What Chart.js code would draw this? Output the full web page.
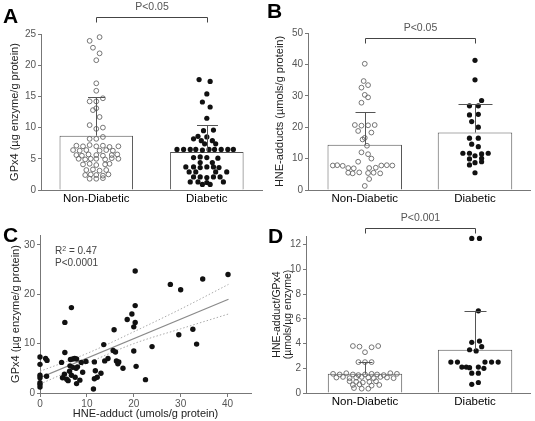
<!DOCTYPE html>
<html>
<head>
<meta charset="utf-8">
<script src="https://cdn.jsdelivr.net/npm/chart.js@4.4.0/dist/chart.umd.min.js"></script>
<style>
  html, body { margin: 0; padding: 0; background: #fff; }
  #wrap { position: relative; width: 535px; height: 421px; overflow: hidden; font-family: "Liberation Sans", Arial, sans-serif; }
  canvas { position: absolute; }
  .letter { position: absolute; font-weight: bold; font-size: 21px; line-height: 21px; color: #000; }
  .stat { position: absolute; font-size: 10px; line-height: 12px; color: #444; }
</style>
</head>
<body>
<div id="wrap">
  <canvas id="chartA" width="267" height="210" style="left:0;top:0"></canvas>
  <canvas id="chartB" width="268" height="210" style="left:267px;top:0"></canvas>
  <canvas id="chartC" width="267" height="211" style="left:0;top:210px"></canvas>
  <canvas id="chartD" width="268" height="211" style="left:267px;top:210px"></canvas>
  <div class="letter" style="left:3px;top:5px">A</div>
  <div class="letter" style="left:267px;top:0px">B</div>
  <div class="letter" style="left:3px;top:224px">C</div>
  <div class="letter" style="left:268px;top:225px">D</div>
  <div class="stat" style="left:55px;top:245px">R<sup style="font-size:7px;line-height:7px;vertical-align:top">2</sup> = 0.47<br>P&lt;0.0001</div>
</div>
<script>
const groups = ['Non-Diabetic', 'Diabetic'];

// Panel A - GPx4 per group
const gpxMeans = [8.7, 6.1];
const gpxSdTop = [14.9, 10.4];
const gpxNonDiabetic = [
    24.5, 23.9, 22.8, 21.9, 20.8, 17.1, 15.9, 14.7, 14.2, 14.2, 13.1, 12.8, 11.7, 10.4, 10.0, 9.8, 8.5, 8.2, 8.2,
    7.1, 7.0, 7.2, 7.0, 7.1, 6.9, 7.0,
    6.4, 6.3, 6.4, 6.3, 6.4, 6.3,
    5.6, 5.5, 5.7, 5.6, 5.5, 5.6, 5.7,
    5.0, 4.9, 5.0, 5.0, 4.9, 5.1, 5.0,
    4.1, 4.2, 4.0, 4.1, 4.2,
    3.2, 3.3, 3.1, 3.2,
    2.4, 2.5, 2.4, 2.3, 2.5,
    1.8, 1.8, 1.9
];
const gpxNonDiabeticJitter = [
    0.03, -0.06, -0.03, 0.03, 0, 0, 0, 0.06, -0.06, 0, 0, -0.03, 0.03, -0.06, 0.06, 0, 0.06, -0.06, 0,
    -0.18, -0.12, -0.06, 0, 0.06, 0.12, 0.2,
    -0.21, -0.15, -0.09, 0.03, 0.09, 0.15,
    -0.18, -0.13, -0.07, 0, 0.06, 0.14, 0.19,
    -0.16, -0.1, -0.05, 0, 0.08, 0.14, 0.2,
    -0.12, -0.06, 0, 0.08, 0.12,
    -0.09, -0.03, 0.03, 0.09,
    -0.1, -0.05, 0, 0.06, 0.11,
    -0.06, 0, 0.06
];
const gpxDiabetic = [
    17.7, 17.4, 15.4, 14.1, 13.3, 11.5, 9.6, 9.5, 8.6, 8.5, 8.2, 7.9, 7.9, 7.4, 7.4,
    6.5, 6.5, 6.5, 6.5, 6.4, 6.5, 6.5, 6.5, 6.5, 6.5,
    5.2, 5.3, 5.2, 5.1,
    4.4, 4.4,
    3.7, 3.7, 3.6, 3.7, 3.7, 3.6,
    2.9, 2.9, 2.9, 2.9,
    2.1, 2.1, 2.0, 2.1, 2.1,
    1.3, 1.3, 1.2, 1.3,
    0.9, 0.9
];
const gpxDiabeticJitter = [
    -0.07, 0.03, 0, -0.04, 0.03, 0, 0.06, -0.03, -0.08, 0, -0.12, -0.05, 0.05, -0.02, 0.08,
    -0.27, -0.21, -0.15, -0.1, -0.04, 0.02, 0.07, 0.13, 0.19, 0.24,
    -0.12, -0.06, 0, 0.1,
    -0.06, 0.05,
    -0.19, -0.12, -0.06, 0, 0.06, 0.11,
    -0.16, -0.1, 0.08, 0.18,
    -0.12, -0.06, 0, 0.06, 0.12,
    -0.15, -0.08, 0, 0.15,
    -0.04, 0.03
];

// Panel B - HNE-adducts per group
const hneMeans = [14.4, 18.3];
const hneSdTop = [24.7, 27.4];
const hneNonDiabetic = [
    40.2, 34.7, 33.4, 32.6, 30.3, 29.5, 27.8,
    20.7, 20.5, 20.6, 20.7,
    18.8, 18.3, 16.6, 16.1, 14.1, 12.0, 11.4, 10.0, 9.0,
    7.8, 7.9, 7.7, 7.8, 7.9, 7.8,
    7.0, 6.9, 7.0, 7.1,
    5.5, 5.3, 5.6, 5.4, 5.5, 5.3,
    3.5, 1.3
];
const hneNonDiabeticJitter = [
    0, -0.01, 0.03, -0.03, 0, 0.03, -0.03,
    -0.09, -0.03, 0.03, 0.09,
    -0.06, 0.06, 0, -0.02, 0.02, -0.03, 0.03, 0.06, -0.06,
    -0.29, -0.25, -0.2, 0.15, 0.2, 0.25,
    -0.15, -0.1, 0.04, 0.1,
    -0.15, -0.11, -0.05, 0.03, 0.08, 0.14,
    0.04, 0
];
const hneDiabetic = [41.3, 35.1, 28.5, 26.8, 26.8, 24.1, 23.9, 21.8, 20.0, 16.5, 16.5, 14.6, 13.8,
    11.7, 11.7, 11.5, 11.7, 10.9, 10.1, 9.9, 9.0, 8.7, 8.0, 5.5];
const hneDiabeticJitter = [0, 0, 0.06, -0.05, 0.03, 0.03, -0.05, -0.03, 0.03, -0.05, 0.03, -0.03, 0.03,
    -0.11, -0.05, 0.06, 0.12, 0, 0.06, -0.05, 0.06, 0, -0.05, 0];

// Panel C - correlation
const corrHne = [0, 0, 0, 0, 0, 0, 0, 1.2, 1.5, 1.4, 4.6, 4.8, 5.2, 5.3, 5.3, 6.0, 5.7, 6.3, 6.7,
    6.5, 7.0, 7.4, 7.8, 6.4, 7.0, 8.0, 7.7, 7.5, 6.7, 7.8, 8.8, 9.1, 9.8, 8.5,
    11.6, 11.8, 11.4, 11.6, 12.2, 13.0, 13.6, 13.8, 14.5, 15.8, 15.6, 16.1, 16.3, 16.8, 16.6, 17.7,
    18.6, 19.6, 20.3, 20.0, 20.3, 20.0, 20.3, 20.5, 22.5, 23.9, 27.8, 29.6, 30.0, 32.6, 33.4, 34.7, 40.1];
const corrGpx = [7.3, 5.8, 3.6, 3.1, 2.1, 1.7, 1.2, 7.0, 6.6, 3.4, 6.2, 3.1, 3.8, 14.3, 8.2, 2.5, 2.8, 4.4, 17.3,
    6.8, 6.9, 7.0, 6.9, 5.5, 5.2, 5.3, 5.0, 3.2, 3.6, 1.9, 6.2, 4.2, 6.4, 2.6,
    6.3, 4.5, 0.8, 2.9, 3.2, 4.0, 9.8, 6.5, 7.0, 12.8, 8.6, 8.3, 6.5, 6.3, 5.9, 5.0,
    14.9, 16.0, 17.7, 13.4, 14.3, 8.5, 24.7, 5.4, 2.7, 9.4, 22.0, 11.8, 20.9, 12.9, 9.9, 23.1, 24.0];
const fitX = [0, 40.2];
const fitY = [3.1, 19.0];
const bandX = [0, 10, 20, 30, 40.2];
const bandUpper = [4.4, 8.0, 12.4, 17.0, 22.0];
const bandLower = [1.8, 6.0, 10.0, 13.0, 16.0];

// Panel D - ratio per group
const ratioMeans = [1.55, 3.5];
const ratioSdTop = [2.5, 6.65];
const ratioNonDiabetic = [
    3.8, 3.75, 3.3, 3.7, 3.8,
    2.5, 2.5, 2.5,
    1.55, 1.5, 1.6, 1.5, 1.45, 1.5, 1.55, 1.5, 1.45, 1.6, 1.55,
    1.25, 1.3, 1.2, 1.25, 1.3, 1.25, 1.2, 1.3, 1.25, 1.2,
    0.95, 0.9, 0.85, 0.9, 0.95,
    0.65, 0.7, 0.6, 0.65,
    0.4, 0.35, 0.35
];
const ratioNonDiabeticJitter = [
    -0.11, -0.05, 0, 0.06, 0.12,
    -0.06, 0, 0.06,
    -0.29, -0.23, -0.17, -0.11, -0.06, 0, 0.06, 0.11, 0.17, 0.23, 0.29,
    -0.26, -0.2, -0.14, -0.08, -0.03, 0.03, 0.08, 0.14, 0.2, 0.26,
    -0.14, -0.08, -0.02, 0.04, 0.1,
    -0.11, -0.05, 0.06, 0.13,
    -0.1, -0.03, 0.03
];
const ratioDiabetic = [12.5, 12.5, 6.65, 4.1, 4.2, 3.75, 3.5, 3.4, 2.5, 2.5, 2.5, 2.5, 2.5,
    2.1, 2.1, 2.05, 2.1, 2.0, 1.6, 1.6, 0.85, 0.7];
const ratioDiabeticJitter = [-0.03, 0.04, 0.03, -0.03, 0.04, 0.06, -0.05, 0.01, -0.22, -0.16, 0.09, 0.15, 0.21,
    -0.12, -0.08, -0.05, 0.03, 0.08, -0.03, 0.03, 0.03, -0.03];

Chart.defaults.font.family = '"Liberation Sans", Arial, sans-serif';

// error bars (upper SD only) + significance bracket
const errorBarPlugin = {
    id: 'errorBars',
    afterDatasetsDraw(chart, args, opts) {
        const { ctx, scales: { x, y } } = chart;
        ctx.save();
        ctx.strokeStyle = '#555';
        ctx.lineWidth = 1;
        opts.means.forEach((m, i) => {
            const px = Math.round(x.getPixelForValue(i)) + 0.5;
            const top = Math.round(y.getPixelForValue(opts.tops[i])) + 0.5;
            ctx.beginPath();
            ctx.moveTo(px, y.getPixelForValue(m));
            ctx.lineTo(px, top);
            ctx.moveTo(px - opts.caps[i] / 2, top);
            ctx.lineTo(px + opts.caps[i] / 2, top);
            ctx.stroke();
        });
        const by = Math.round(y.getPixelForValue(opts.bracketAt)) + 0.5;
        const x0 = Math.round(x.getPixelForValue(0)) + 0.5;
        const x1 = Math.round(x.getPixelForValue(1)) + 0.5;
        ctx.strokeStyle = '#444';
        ctx.beginPath();
        ctx.moveTo(x0, by + 5);
        ctx.lineTo(x0, by);
        ctx.lineTo(x1, by);
        ctx.lineTo(x1, by + 5);
        ctx.stroke();
        ctx.fillStyle = '#555';
        ctx.font = '10.5px "Liberation Sans", Arial, sans-serif';
        ctx.textAlign = 'center';
        ctx.textBaseline = 'middle';
        ctx.fillText(opts.label, (x0 + x1) / 2, by - 10.5);
        ctx.restore();
    }
};

function toPoints(values, jitter, group) {
    return values.map((v, i) => ({ x: group + jitter[i], y: v }));
}

function barPanel(canvasId, p) {
    return new Chart(document.getElementById(canvasId), {
        type: 'bar',
        data: {
            datasets: [
                { type: 'scatter', data: toPoints(p.nd, p.ndJitter, 0), pointRadius: 2.4, borderWidth: 0.9,
                  borderColor: '#666', backgroundColor: 'rgba(255,255,255,0)', order: 1, clip: false },
                { type: 'scatter', data: toPoints(p.d, p.dJitter, 1), pointRadius: 2.6, borderWidth: 0,
                  backgroundColor: '#111', order: 1, clip: false },
                { type: 'bar', data: p.means.map((m, i) => ({ x: i, y: m })), backgroundColor: '#fff',
                  borderColor: '#555', borderWidth: 1, barPercentage: p.barPct, categoryPercentage: 1, order: 2 }
            ]
        },
        options: {
            responsive: false,
            animation: false,
            layout: { padding: p.padding },
            plugins: {
                legend: { display: false },
                tooltip: { enabled: false },
                errorBars: { means: p.means, tops: p.sdTop, caps: p.caps, bracketAt: p.bracketAt, label: p.label }
            },
            scales: {
                x: {
                    type: 'linear', min: p.xMin, max: 1.5, offset: false,
                    grid: { display: false, drawTicks: false },
                    border: { color: '#777' },
                    ticks: { color: '#000', font: { size: 11.5 }, padding: 2, callback: v => groups[v] },
                    afterBuildTicks: s => { s.ticks = [{ value: 0 }, { value: 1 }]; },
                    afterFit: s => { s.height = p.xHeight; }
                },
                y: {
                    min: 0, max: p.yMax,
                    ticks: { stepSize: p.yStep, color: '#555', font: { size: 10 }, padding: 2, includeBounds: false },
                    grid: { drawOnChartArea: false, tickLength: 3, color: '#777' },
                    border: { color: '#777' },
                    title: { display: true, text: p.yTitle, color: '#222', font: { size: p.titleSize || 11, lineHeight: 1.05 },
                             padding: { top: p.titlePad, bottom: 0 } },
                    afterFit: s => { s.width = p.yWidth; }
                }
            }
        },
        plugins: [errorBarPlugin]
    });
}

// Panel A
barPanel('chartA', {
    nd: gpxNonDiabetic, ndJitter: gpxNonDiabeticJitter, d: gpxDiabetic, dJitter: gpxDiabeticJitter,
    means: gpxMeans, sdTop: gpxSdTop, caps: [17, 21], bracketAt: 27.8, label: 'P<0.05',
    yMax: 25, yStep: 5, yTitle: 'GPx4 (µg enzyme/g protein)', titlePad: 9,
    xMin: -0.5, barPct: 0.665, yWidth: 41, xHeight: 20,
    padding: { left: 0, right: 3, top: 34, bottom: 0 }
});

// Panel B
barPanel('chartB', {
    nd: hneNonDiabetic, ndJitter: hneNonDiabeticJitter, d: hneDiabetic, dJitter: hneDiabeticJitter,
    means: hneMeans, sdTop: hneSdTop, caps: [20, 34], bracketAt: 48.3, label: 'P<0.05',
    yMax: 50, yStep: 10, yTitle: 'HNE-adducts (µmols/g protein)', titlePad: 7,
    xMin: -0.515, barPct: 0.676, yWidth: 41, xHeight: 20,
    padding: { left: 0, right: 3, top: 33, bottom: 0 }
});

// Panel D
barPanel('chartD', {
    nd: ratioNonDiabetic, ndJitter: ratioNonDiabeticJitter, d: ratioDiabetic, dJitter: ratioDiabeticJitter,
    means: ratioMeans, sdTop: ratioSdTop, caps: [14, 22], bracketAt: 13.36, label: 'P<0.001',
    yMax: 12.7, yStep: 2, yTitle: ['HNE-adduct/GPx4', '(µmols/µg enzyme)'], titlePad: 5, titleSize: 10.5,
    xMin: -0.536, barPct: 0.676, yWidth: 39, xHeight: 28,
    padding: { left: 0, right: 3, top: 26, bottom: 0 }
});

// Panel C - scatter with regression line and 95% band
new Chart(document.getElementById('chartC'), {
    type: 'scatter',
    data: {
        datasets: [
            { data: corrHne.map((v, i) => ({ x: v, y: corrGpx[i] })), pointRadius: 2.7, borderWidth: 0,
              backgroundColor: '#111', clip: false },
            { type: 'line', data: fitX.map((v, i) => ({ x: v, y: fitY[i] })), borderColor: '#8a8a8a',
              borderWidth: 1.2, pointRadius: 0, fill: false },
            { type: 'line', data: bandX.map((v, i) => ({ x: v, y: bandUpper[i] })), borderColor: '#aaa',
              borderWidth: 1, borderDash: [1.5, 2], pointRadius: 0, fill: false, cubicInterpolationMode: 'monotone' },
            { type: 'line', data: bandX.map((v, i) => ({ x: v, y: bandLower[i] })), borderColor: '#aaa',
              borderWidth: 1, borderDash: [1.5, 2], pointRadius: 0, fill: false, cubicInterpolationMode: 'monotone' }
        ]
    },
    options: {
        responsive: false,
        animation: false,
        layout: { padding: { left: 0, right: 16, top: 25, bottom: 0 } },
        plugins: { legend: { display: false }, tooltip: { enabled: false } },
        scales: {
            x: {
                type: 'linear', min: 0, max: 45,
                ticks: { stepSize: 10, color: '#555', font: { size: 10 }, padding: 1, includeBounds: false },
                grid: { drawOnChartArea: false, tickLength: 4, color: '#777' },
                border: { color: '#777' },
                title: { display: true, text: 'HNE-adduct (umols/g protein)', color: '#222', font: { size: 11 },
                         padding: { top: 0, bottom: 0 } },
                afterFit: s => { s.height = 28; }
            },
            y: {
                min: 0, max: 32,
                ticks: { stepSize: 10, color: '#555', font: { size: 10 }, padding: 2, includeBounds: false },
                grid: { drawOnChartArea: false, tickLength: 3, color: '#777' },
                border: { color: '#777' },
                title: { display: true, text: 'GPx4 (µg enzyme/g protein)', color: '#222', font: { size: 11 },
                         padding: { top: 9, bottom: 0 } },
                afterFit: s => { s.width = 40; }
            }
        }
    }
});
</script>
</body>
</html>
